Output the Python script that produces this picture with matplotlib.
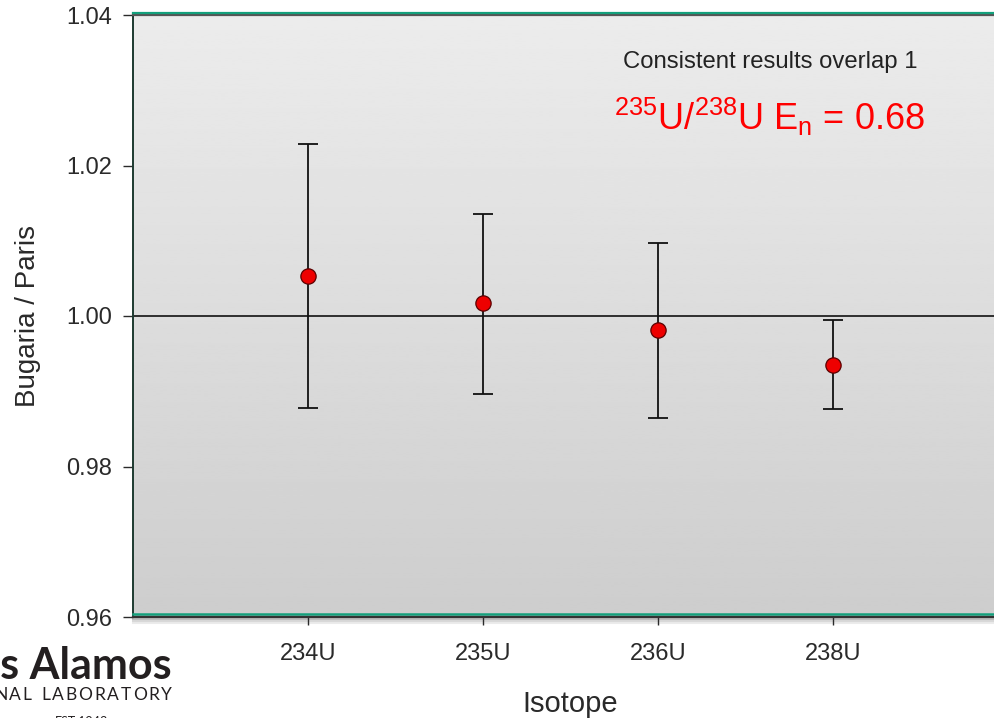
import numpy as np
import matplotlib
matplotlib.use("Agg")
import matplotlib.pyplot as plt
from matplotlib.lines import Line2D

plt.rcParams['font.family'] = ['Liberation Sans', 'DejaVu Sans']
plt.rcParams['mathtext.fontset'] = 'custom'
plt.rcParams['mathtext.rm'] = 'Liberation Sans'
plt.rcParams['mathtext.it'] = 'Liberation Sans:italic'
plt.rcParams['mathtext.bf'] = 'Liberation Sans:bold'

# Isotope ratio comparison: Bugaria / Paris
isotopes = ["234U", "235U", "236U", "238U"]
ratio = [1.0053, 1.0017, 0.9982, 0.9935]
err_high = [1.0228, 1.0136, 1.0097, 0.9995]
err_low = [0.9878, 0.9897, 0.9865, 0.9876]
y_ticks = [0.96, 0.98, 1.00, 1.02, 1.04]

W, H = 995, 718
fig = plt.figure(figsize=(W / 100, H / 100), dpi=100)
ax = fig.add_axes([133 / W, (H - 617) / H, 875 / W, 602 / H])

x = np.arange(1, len(isotopes) + 1)
ax.set_xlim(0, 5)
ax.set_ylim(0.96, 1.04)

# vertical grey gradient background
grad = np.linspace(0.805, 0.925, 256).reshape(-1, 1)
ax.imshow(grad, cmap="gray", vmin=0, vmax=1, aspect="auto",
          extent=[0, 1, 0, 1], transform=ax.transAxes, zorder=0,
          origin="lower")

ax.axhline(1.0, color="#111111", lw=1.2, zorder=2)

yerr = [np.array(ratio) - np.array(err_low), np.array(err_high) - np.array(ratio)]
ax.errorbar(x, ratio, yerr=yerr, fmt="none", ecolor="#111111", elinewidth=1.3,
            capsize=7, capthick=1.3, zorder=3)
ax.plot(x, ratio, "o", ms=11, mfc="#ee0000", mec="#5a0000", mew=0.9, zorder=4)

ax.set_xticks(x)
ax.set_xticklabels(isotopes)
ax.set_yticks(y_ticks)
ax.set_yticklabels([f"{v:.2f}" for v in y_ticks])
ax.tick_params(axis="y", length=7, width=1, pad=8, labelsize=17, colors="#2a2a2a")
ax.tick_params(axis="x", length=6, width=1, pad=13, labelsize=17, colors="#2a2a2a")

ax.set_ylabel("Bugaria / Paris", fontsize=20, color="#2a2a2a", labelpad=18)
ax.set_xlabel("Isotope", fontsize=21, color="#2a2a2a", labelpad=18)

for s in ["top", "bottom", "right"]:
    ax.spines[s].set_visible(False)
ax.spines["left"].set_color("#1d3a30")
ax.spines["left"].set_linewidth(1.4)

# frame lines: grey edge with a teal accent
ax.add_line(Line2D([0, 1], [1, 1], transform=ax.transAxes, color="#555555",
                   lw=1.6, clip_on=False, zorder=5))
ax.add_line(Line2D([0, 1], [1.0035, 1.0035], transform=ax.transAxes, color="#13a07c",
                   lw=1.6, clip_on=False, zorder=5))
ax.add_line(Line2D([0, 1], [0.0045, 0.0045], transform=ax.transAxes, color="#13a07c",
                   lw=1.8, clip_on=False, zorder=5))
ax.add_line(Line2D([0, 1], [-0.0005, -0.0005], transform=ax.transAxes, color="#333333",
                   lw=1.6, clip_on=False, zorder=5))
for i, a in enumerate([0.25, 0.15, 0.08]):
    ax.add_line(Line2D([0, 1], [-0.004 - 0.003 * i] * 2, transform=ax.transAxes,
                       color="black", alpha=a, lw=1.5, clip_on=False, zorder=1))

fig.text(770 / W, (H - 62) / H, "Consistent results overlap 1",
         ha="center", va="center", fontsize=17.2, color="#222222")
fig.text(769 / W, (H - 117) / H,
         r"$\mathregular{^{235}}$U/$\mathregular{^{238}}$U E$\mathregular{_n}$ = 0.68",
         ha="center", va="center", fontsize=26, color="#ff0000")

# institution mark
logo_font = ["Lato", "DejaVu Sans"]
fig.text(172 / W, (H - 679) / H, "Los Alamos", ha="right", va="baseline",
         fontsize=31, fontweight="bold", family=logo_font, color="#231f20")

# tracked small caps line, laid out right to left
fig.canvas.draw()
renderer = fig.canvas.get_renderer()
line = "NATIONAL LABORATORY"
xr = 172.0
tracking = 1.8
for ch in reversed(line):
    t = fig.text(xr / W, (H - 700) / H, ch, ha="right", va="baseline",
                 fontsize=12.5, family=logo_font, color="#231f20")
    if ch == " ":
        w = 6.0
    else:
        w = t.get_window_extent(renderer).width
    xr -= w + tracking

fig.text(82 / W, (H - 726) / H, "EST.1943", ha="center", va="baseline",
         fontsize=9, family=logo_font, color="#231f20")

fig.savefig("out.png", dpi=100)
